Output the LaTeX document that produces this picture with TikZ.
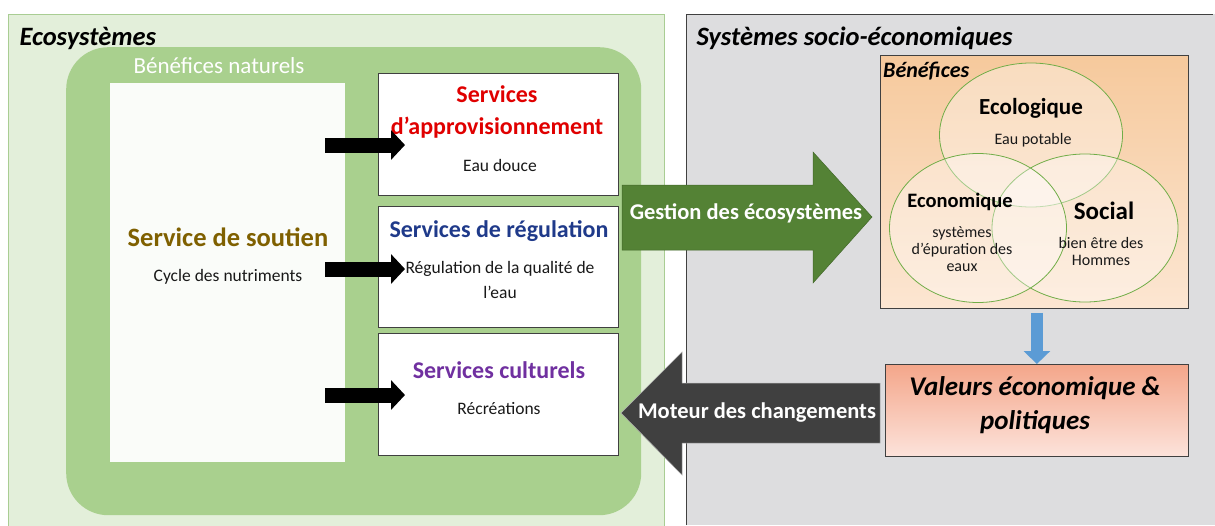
\documentclass[tikz,border=0pt]{standalone}
\usepackage{fontspec}
\setmainfont{Carlito}
\usetikzlibrary{shapes.geometric,arrows.meta}
\definecolor{panelgreen}{HTML}{E3EFDA}
\definecolor{panelgreenb}{HTML}{A9CD93}
\definecolor{midgreen}{HTML}{A9D08E}
\definecolor{soutienfill}{HTML}{FAFCF9}
\definecolor{panelgrey}{HTML}{DDDDDF}
\definecolor{darkline}{HTML}{404040}
\definecolor{soutientxt}{HTML}{7F6000}
\definecolor{approtxt}{HTML}{E00000}
\definecolor{regultxt}{HTML}{1F3A8A}
\definecolor{culttxt}{HTML}{7030A0}
\definecolor{circgreen}{HTML}{70AD47}
\definecolor{gestgreen}{HTML}{548235}
\definecolor{motgrey}{HTML}{404040}
\definecolor{bluearr}{HTML}{5B9BD5}
\definecolor{benetop}{HTML}{F6C99C}
\definecolor{benebot}{HTML}{FCE6D2}
\definecolor{valtop}{HTML}{F4A68A}
\definecolor{valbot}{HTML}{FCE3DB}
\tikzset{
  px/.style={x=1pt,y=-1pt},
  servbox/.style={draw=darkline, line width=0.8pt, fill=white, minimum width=240pt, inner sep=0pt},
  titlefont/.style={font=\fontsize{26.5}{30}\selectfont\bfseries\itshape},
  stitle/.style={font=\fontsize{24}{32}\selectfont\bfseries, align=center},
  stext/.style={font=\fontsize{17.5}{25}\selectfont, align=center, text=black!90},
  ctitle/.style={font=\fontsize{23}{26}\selectfont\bfseries},
  ctext/.style={font=\fontsize{16}{17}\selectfont, align=center, text=black!90},
  venn/.style={ellipse, draw=circgreen, line width=0.8pt, fill=white, fill opacity=0.35, text opacity=1, inner sep=0pt},
  bigarrtext/.style={font=\fontsize{22.5}{26}\selectfont\bfseries, text=white},
}
\begin{document}
\begin{tikzpicture}[px]
\useasboundingbox (0,0) rectangle (1215,525);
% left panel
\fill[white] (0,0) rectangle (1215,525);
\node[draw=panelgreenb, line width=0.8pt, fill=panelgreen, minimum width=656pt, minimum height=520pt, inner sep=0pt, anchor=north west] (eco) at (8,14) {};
\node[fill=midgreen, rounded corners=42pt, minimum width=575pt, minimum height=468pt, inner sep=0pt, anchor=north west] (natur) at (66,47) {};
\node[text=white, font=\fontsize{23}{26}\selectfont] (natlbl) at (219,66) {Bénéfices naturels};
\node[titlefont, anchor=west] (ecolbl) at (16,38) {Ecosystèmes};
% soutien
\node[fill=soutienfill, minimum width=235pt, minimum height=379pt, inner sep=0pt, anchor=north west] (soutien) at (110,83) {};
\node[font=\fontsize{26.5}{30}\selectfont\bfseries, text=soutientxt] (soutienT) at (228,237) {Service de soutien};
\node[stext] (soutienS) at (228,277) {Cycle des nutriments};
% service boxes
\node[servbox, minimum height=122pt, anchor=north west] (appro) at (378,73) {};
\node[stitle, text=approtxt] (approT) at (497,112) {Services\\d’approvisionnement};
\node[stext] (approS) at (500,165) {Eau douce};
\node[servbox, minimum height=121pt, anchor=north west] (regul) at (378,206) {};
\node[stitle, text=regultxt] (regulT) at (499,231) {Services de régulation};
\node[stext] (regulS) at (500,280) {Régulation de la qualité de\\l’eau};
\node[servbox, minimum height=122pt, anchor=north west] (cult) at (378,333) {};
\node[stitle, text=culttxt] (cultT) at (499,370) {Services culturels};
\node[stext] (cultS) at (499,409) {Récréations};
% black arrows from soutien
\coordinate (a1s) at (325,145);
\coordinate (a2s) at (325,269);
\coordinate (a3s) at (325,395);
\foreach \s/\t in {a1s/appro, a2s/regul, a3s/cult}{
  \draw[line width=15pt, black, -{Triangle[width=29pt,length=14pt]}] (\s) -- ([xshift=27pt]\s -| \t.west);
}
% right panel
\fill[panelgrey] (686,14) rectangle (1215,525);
\draw[darkline, line width=0.8pt] (686,525) -- (686,14) -- (1213,14);
\node[titlefont, anchor=west] (socio) at (693,38) {Systèmes socio-économiques};
% Benefices box
\node[draw=darkline, line width=0.8pt, top color=benetop, bottom color=benebot, minimum width=308pt, minimum height=253pt, inner sep=0pt, anchor=north west] (bene) at (880,55) {};
\node[font=\fontsize{22}{24}\selectfont\bfseries\itshape, anchor=west, inner sep=2pt] (benelbl) at (881,71) {Bénéfices};
\node[venn, minimum width=183pt, minimum height=144pt] (ecol) at (1031,135) {};
\node[venn, minimum width=186pt, minimum height=148pt] (soc) at (1085,228) {};
\node[venn, minimum width=177pt, minimum height=149pt] (econ) at (978,228) {};
\node[ctitle] (ecolT) at (1031,108) {Ecologique};
\node[ctext] (ecolS) at (1033,140) {Eau potable};
\node[font=\fontsize{20.5}{24}\selectfont\bfseries] (econT) at (960,202) {Economique};
\node[ctext] (econS) at (962,249) {systèmes\\d'épuration des\\eaux};
\node[font=\fontsize{25}{28}\selectfont\bfseries] (socT) at (1104,211) {Social};
\node[ctext] (socS) at (1101,251) {bien être des\\Hommes};
% valeurs box
\node[draw=darkline, line width=0.8pt, top color=valtop, bottom color=valbot, minimum width=303pt, minimum height=92pt, inner sep=0pt, anchor=north west] (val) at (885,364) {};
\node[font=\fontsize{27}{34}\selectfont\bfseries\itshape, align=center] (valT) at (1035,405) {Valeurs économique \&\\politiques};
% blue arrow
\draw[bluearr, line width=12pt, -{Triangle[width=26pt,length=13pt]}] ([yshift=-4pt]bene.south -| val.north) -- (val.north);
% green arrow
\fill[gestgreen, draw=gestgreen!80!black, line width=0.5pt] (622,185) -- (813,185) -- (813,152) -- (872,217) -- (813,283) -- (813,250) -- (622,250) -- cycle;
\node[bigarrtext] (gestT) at (746,213) {Gestion des écosystèmes};
% grey arrow
\fill[motgrey, draw=white!70!black, line width=0.5pt] (880,383) -- (682,383) -- (682,352) -- (621,413) -- (682,475) -- (682,443) -- (880,443) -- cycle;
\node[bigarrtext] (motT) at (757,413) {Moteur des changements};
\end{tikzpicture}
\end{document}
